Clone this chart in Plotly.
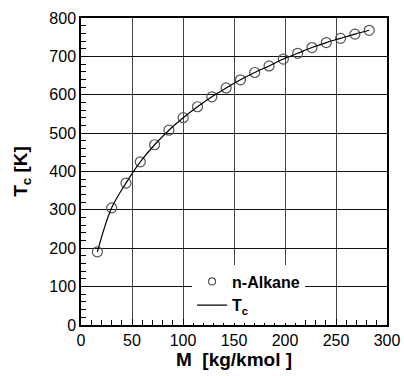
import plotly.graph_objects as go

# n-Alkane molar mass [kg/kmol] and critical temperature [K]
molar_mass = [16.04, 30.07, 44.10, 58.12, 72.15, 86.18, 100.20, 114.23, 128.26, 142.28,
              156.31, 170.33, 184.36, 198.39, 212.42, 226.44, 240.47, 254.49, 268.52, 282.55]
tc_points = [190.6, 305.3, 369.8, 425.1, 469.7, 507.6, 540.2, 568.7, 594.6, 617.7,
             639.0, 658.0, 675.0, 693.0, 708.0, 723.0, 736.0, 747.0, 758.0, 768.0]

x_ticks = [0, 50, 100, 150, 200, 250, 300]
y_ticks = [0, 100, 200, 300, 400, 500, 600, 700, 800]

FONT = "Liberation Sans, Arial"

fig = go.Figure()
# plotted data
fig.add_trace(go.Scatter(
    x=molar_mass, y=tc_points, mode="markers", name="n-Alkane", showlegend=False,
    marker=dict(symbol="circle-open", size=10, color="#555555", line=dict(width=1.2)),
))
fig.add_trace(go.Scatter(
    x=molar_mass, y=tc_points, mode="lines", name="T<sub>c</sub>", showlegend=False,
    line=dict(color="black", width=1.2, shape="spline"),
))
# legend entries
fig.add_trace(go.Scatter(
    x=[None], y=[None], mode="markers", name="n-Alkane",
    marker=dict(symbol="circle-open", size=7, color="#555555", line=dict(width=1.2)),
))
fig.add_trace(go.Scatter(
    x=[None], y=[None], mode="lines", name="T<sub>c</sub>",
    line=dict(color="black", width=1.2),
))

axis_common = dict(
    showline=True, linecolor="black", linewidth=1.5, mirror=True,
    ticks="inside", ticklen=6, tickcolor="black",
    tickfont=dict(family=FONT, size=16, color="black"),
    zeroline=False, showgrid=True, automargin=False,
    ticklabeloverflow="allow",
)

fig.update_xaxes(
    range=[0, 300], tickvals=x_ticks, gridcolor="#444444", gridwidth=1.2,
    minor=dict(dtick=10, ticks="inside", ticklen=5, tickcolor="black", showgrid=False),
    title=dict(text="M  [kg/kmol ]", font=dict(family=FONT, size=19, color="black", weight="bold"), standoff=3),
    **axis_common,
)
fig.update_yaxes(
    range=[0, 800], tickvals=y_ticks, gridcolor="#111111", gridwidth=1,
    minor=dict(dtick=20, ticks="inside", ticklen=5, tickcolor="black", showgrid=False),
    title=dict(text="T<sub>c</sub> [K]", font=dict(family=FONT, size=19, color="black", weight="bold"), standoff=17),
    **axis_common,
)

fig.update_layout(
    width=404, height=376,
    margin=dict(l=81, r=17, t=18, b=51),
    plot_bgcolor="white", paper_bgcolor="white",
    font=dict(family=FONT, color="black"),
    legend=dict(
        x=0.363, y=0.197, xanchor="left", yanchor="top",
        bgcolor="white", borderwidth=0,
        font=dict(family=FONT, size=16, color="black", weight="bold"),
        itemsizing="trace", tracegroupgap=0,
    ),
)

fig.write_html(
    "out.html",
    config={"displayModeBar": False},
    post_script="document.body.style.margin='0';document.body.style.overflow='hidden';",
)
